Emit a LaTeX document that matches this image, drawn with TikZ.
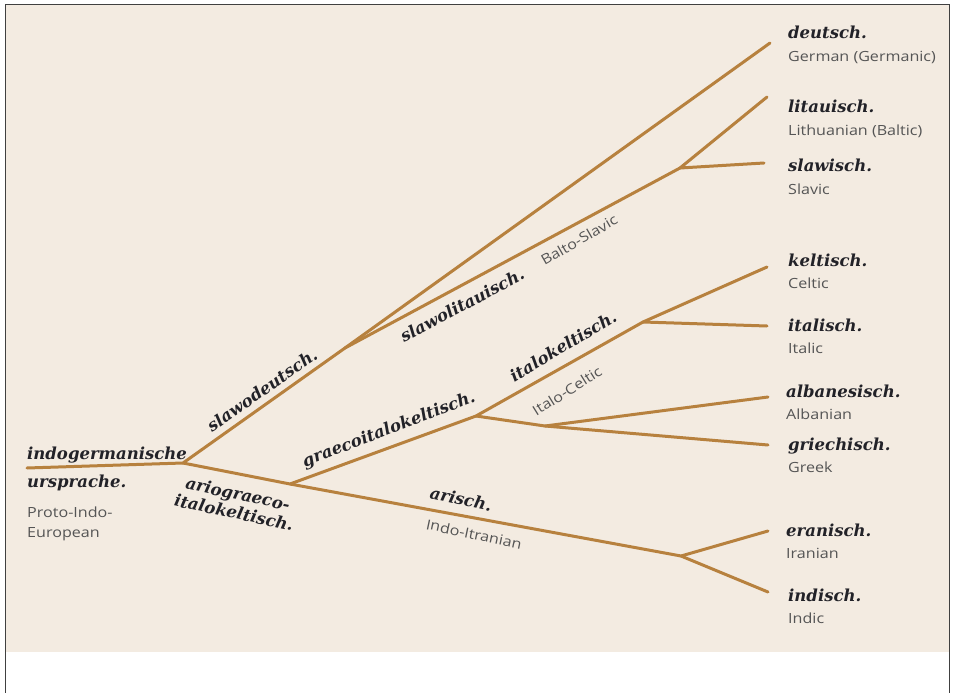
\documentclass[tikz,border=0pt]{standalone}
\usepackage{fontspec}
\usetikzlibrary{positioning}
\newfontfamily\langfont{DejaVu Serif}
\newfontfamily\glossfont[FakeStretch=1.15]{Open Sans}
\definecolor{paper}{HTML}{F3EBE1}
\definecolor{bark}{HTML}{B7813E}
\definecolor{ink}{HTML}{222228}
\definecolor{greytext}{HTML}{555555}

\begin{document}
\begin{tikzpicture}[x=1pt, y=-1pt,
  branch/.style={draw=bark, line width=3pt, line cap=round, line join=round},
  lang/.style={font=\langfont\bfseries\itshape\fontsize{16.5}{19}\selectfont, text=ink, inner sep=0pt},
  gloss/.style={font=\glossfont\fontsize{14}{20}\selectfont, text=greytext, inner sep=0pt}]
  % Frame
  \useasboundingbox (0,0) rectangle (953,693);
  \fill[paper] (5,5) rectangle (949,652);
  \draw[black!75, line width=1pt] (5,693) -- (5,5) -- (949,5) -- (949,693);
  % Define points
  \coordinate (root) at (27,468);
  \coordinate (ie)   at (183,463);
  \coordinate (sd)   at (345,348);
  \coordinate (sl)   at (680,168);
  \coordinate (agi)  at (290,484);
  \coordinate (gik)  at (476,416);
  \coordinate (ik)   at (643,322);
  \coordinate (ag)   at (545,426);
  \coordinate (ar)   at (681,556);
  \coordinate (deuEnd) at (770,43);
  \coordinate (litEnd) at (767,97);
  \coordinate (slaEnd) at (764,163);
  \coordinate (kelEnd) at (767,267);
  \coordinate (itaEnd) at (767,326);
  \coordinate (albEnd) at (768,397);
  \coordinate (griEnd) at (768,445);
  \coordinate (eraEnd) at (768,531);
  \coordinate (indEnd) at (768,592);
  % Connect points
  \draw[branch] (root) -- (ie) -- (sd) -- (deuEnd);
  \draw[branch] (sd) -- (sl) -- (litEnd);
  \draw[branch] (sl) -- (slaEnd);
  \draw[branch] (ie) -- (agi) -- (gik) -- (ik) -- (kelEnd);
  \draw[branch] (ik) -- (itaEnd);
  \draw[branch] (gik) -- (ag) -- (albEnd);
  \draw[branch] (ag) -- (griEnd);
  \draw[branch] (agi) -- (ar) -- (eraEnd);
  \draw[branch] (ar) -- (indEnd);
  % Leaf labels
  \node[lang, anchor=base west] (deu) at (788,39) {deutsch.};
  \node[gloss, below=23pt of deu.base west, anchor=base west] (deuG) {German (Germanic)};
  \node[lang, anchor=base west] (lit) at (788,112) {litauisch.};
  \node[gloss, below=23pt of lit.base west, anchor=base west] (litG) {Lithuanian (Baltic)};
  \node[lang, anchor=base west] (sla) at (788,171) {slawisch.};
  \node[gloss, below=23pt of sla.base west, anchor=base west] (slaG) {Slavic};
  \node[lang, anchor=base west] (kel) at (788,266) {keltisch.};
  \node[gloss, below=22pt of kel.base west, anchor=base west] (kelG) {Celtic};
  \node[lang, anchor=base west] (ita) at (788,331) {italisch.};
  \node[gloss, below=22pt of ita.base west, anchor=base west] (itaG) {Italic};
  \node[lang, anchor=base west] (alb) at (786,397) {albanesisch.};
  \node[gloss, below=22pt of alb.base west, anchor=base west] (albG) {Albanian};
  \node[lang, anchor=base west] (gri) at (788,450) {griechisch.};
  \node[gloss, below=22pt of gri.base west, anchor=base west] (griG) {Greek};
  \node[lang, anchor=base west] (era) at (786,536) {eranisch.};
  \node[gloss, below=22pt of era.base west, anchor=base west] (eraG) {Iranian};
  \node[lang, anchor=base west] (ind) at (788,601) {indisch.};
  \node[gloss, below=22pt of ind.base west, anchor=base west] (indG) {Indic};
  % Root labels
  \node[lang, anchor=base west] (ur1) at (27,459) {indogermanische};
  \node[lang, below=28pt of ur1.base west, anchor=base west] (ur2) {ursprache.};
  \node[gloss, below=50pt of ur2.base west, anchor=base west, align=left] (urG) {Proto-Indo-\\European};
  % Branch labels
  \node[lang, rotate=35] (sdL) at (262,390) {slawodeutsch.};
  \node[lang, rotate=28] (slL) at (462,305) {slawolitauisch.};
  \node[gloss, rotate=30] (slG) at (579,240) {Balto-Slavic};
  \node[lang, rotate=21] (gikL) at (389,430) {graecoitalokeltisch.};
  \node[lang, rotate=31] (ikL) at (563,346) {italokeltisch.};
  \node[gloss, rotate=32] (ikG) at (567,391) {Italo-Celtic};
  \node[lang, rotate=-12] (arL) at (461,499) {arisch.};
  \node[gloss, rotate=-12] (arG) at (474,534) {Indo-Itranian};
  \node[lang, rotate=-12, align=center] (agiL) at (236,503) {ariograeco-\\italokeltisch.};
\end{tikzpicture}
\end{document}
